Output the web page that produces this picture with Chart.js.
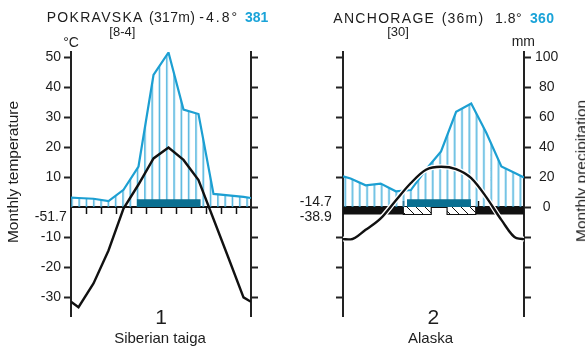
<!DOCTYPE html>
<html>
<head>
<meta charset="utf-8">
<script src="https://cdn.jsdelivr.net/npm/chart.js@4.4.0/dist/chart.umd.min.js"></script>
<style>
  body { margin: 0; background: #fff; }
  #wrap { position: relative; width: 585px; height: 347px; overflow: hidden;
          font-family: "Liberation Sans", Arial, sans-serif; color: #1d1d1d; }
  canvas { position: absolute; top: 0; }
  .t { position: absolute; white-space: nowrap; line-height: 1; }
</style>
</head>
<body>
<div id="wrap">
  <canvas id="c1" width="290" height="347" style="left:0"></canvas>
  <canvas id="c2" width="295" height="347" style="left:290px"></canvas>
</div>
<script>
// shared axes
const tempRange = [-36.33, 51.67];
const tempTicks = [-30, -20, -10, 0, 10, 20, 30, 40, 50];
const precipTicks = [-60, -40, -20, 0, 20, 40, 60, 80, 100];

// Pokravska (Siberian taiga), monthly means Jan..Dec
const pokTemp = [-33.4, -25.5, -14.5, -0.5, 7.5, 16.2, 19.8, 15.7, 9.0, -4.0, -17.0, -30.1];
const pokTempEdge = [-31.6, -31.6];
const pokPrecip = [6, 5.5, 4, 11.5, 27, 88, 103, 65, 62, 8.7, 7.7, 6.7];
const pokPrecipEdge = [6.2, 6];
const pokFrostFree = [[4.38, 8.65]];

// Anchorage (Alaska)
const ancTemp = [-10.8, -7.6, -3.8, 2.2, 8.0, 12.4, 13.4, 12.6, 9.6, 3.3, -4.3, -10.4];
const ancTempEdge = [-10.7, -10.7];
const ancPrecip = [19, 14.5, 15.6, 10.5, 11.3, 25, 37, 63.5, 69, 49.5, 27, 22.2];
const ancPrecipEdge = [20.5, 19.6];
const ancFrostFree = [[4.24, 8.48]];
const ancFrostMonths = [[0, 4], [8.8, 12]];
const ancProbFrost = [[4, 5.85], [6.9, 8.8]];

Chart.defaults.font.family = '"Liberation Sans", Arial, sans-serif';
Chart.defaults.color = '#1d1d1d';

function series(vals, edge) {
  return [{ x: 0, y: edge[0] }]
    .concat(vals.map((v, i) => ({ x: i + 0.5, y: v })))
    .concat([{ x: 12, y: edge[1] }]);
}
function band(span, h) {
  return [{ x: span[0], y: h }, { x: span[1], y: h }];
}
function box(span, h) {
  return [{ x: span[0], y: 0 }, { x: span[0], y: h }, { x: span[1], y: h }, { x: span[1], y: 0 }];
}

function vHatch(ctx, color, x0) {
  const c = document.createElement('canvas');
  c.width = 73; c.height = 8;
  const g = c.getContext('2d');
  g.fillStyle = color;
  for (let i = 0; i < 10; i++) g.fillRect(i * 7.3, 0, 1.4, 8);
  const p = ctx.createPattern(c, 'repeat');
  p.setTransform(new DOMMatrix().translate(x0, 0));
  return p;
}
function dHatch(ctx) {
  const c = document.createElement('canvas');
  c.width = 9; c.height = 9;
  const g = c.getContext('2d');
  g.fillStyle = '#fff';
  g.fillRect(0, 0, 9, 9);
  g.strokeStyle = '#111';
  g.lineWidth = 1;
  g.beginPath();
  g.moveTo(-1, -1); g.lineTo(10, 10);
  g.moveTo(-1, 8); g.lineTo(1, 10);
  g.moveTo(8, -1); g.lineTo(10, 1);
  g.stroke();
  return ctx.createPattern(c, 'repeat');
}

function makePanel(id, p) {
  const ctx = document.getElementById(id).getContext('2d');
  const curve = p.smooth ? { cubicInterpolationMode: 'monotone' } : { tension: 0 };
  const datasets = [];

  datasets.push(Object.assign({ data: series(p.temp, p.tempEdge), yAxisID: 'y', borderColor: '#111', borderWidth: 2.4, order: 0 }, curve));
  if (p.smooth) {
    datasets.push(Object.assign({ data: series(p.temp, p.tempEdge), yAxisID: 'y', borderColor: '#fff', borderWidth: 5, order: 1 }, curve));
  }
  p.frostFree.forEach(s => datasets.push({
    data: band(s, 2.6), yAxisID: 'y', borderWidth: 0, fill: 'origin', backgroundColor: '#0a6f91', order: 2
  }));
  (p.probFrost || []).forEach(s => datasets.push({
    data: box(s, -2.5), yAxisID: 'y', borderColor: '#111', borderWidth: 1.2, fill: 'origin',
    backgroundColor: dHatch(ctx), order: 3
  }));
  (p.frostMonths || []).forEach(s => datasets.push({
    data: band(s, -2.5), yAxisID: 'y', borderWidth: 0, fill: 'origin', backgroundColor: '#111', order: 4
  }));
  datasets.push({
    data: series(p.precip, p.precipEdge), yAxisID: 'y2', borderColor: '#1c9fd2', borderWidth: 2.2,
    tension: 0, fill: 'origin', backgroundColor: vHatch(ctx, '#3aabda', p.leftW + p.hatchShift), order: 5
  });

  return new Chart(ctx, {
    type: 'line',
    data: { datasets },
    options: {
      responsive: false,
      animation: false,
      devicePixelRatio: 1,
      layout: { padding: { top: 52, bottom: 31, left: 0, right: 0 } },
      elements: { point: { radius: 0 } },
      plugins: { legend: { display: false }, tooltip: { enabled: false }, filler: { drawTime: 'beforeDatasetDraw' } },
      scales: {
        x: {
          type: 'linear', min: 0, max: 12, position: { y: 0 }, z: 1,
          afterBuildTicks: s => { s.ticks = Array.from({ length: 13 }, (_, i) => ({ value: i })); },
          ticks: { display: false },
          grid: {
            drawOnChartArea: false, drawTicks: true, tickLength: p.monthTickLen, tickWidth: 1.5,
            tickColor: c => (c.tick && p.monthTicks.includes(c.tick.value)) ? '#111' : 'rgba(0,0,0,0)'
          },
          border: { display: true, color: '#111', width: 2 }
        },
        y: {
          type: 'linear', position: 'left', min: tempRange[0], max: tempRange[1], z: 1,
          afterBuildTicks: s => { s.ticks = tempTicks.map(v => ({ value: v })); },
          afterFit: s => { s.width = p.leftW; },
          ticks: {
            display: p.leftLabels, padding: 3, font: { size: 14 }, color: '#1d1d1d',
            callback: v => v === 0 ? '' : v
          },
          grid: {
            drawOnChartArea: false, drawTicks: true, tickLength: 7, tickWidth: 2,
            tickColor: c => (c.tick && c.tick.value === 0) ? 'rgba(0,0,0,0)' : '#222'
          },
          border: { display: true, color: '#222', width: 2 }
        },
        y2: {
          type: 'linear', position: 'right', min: tempRange[0] * 2, max: tempRange[1] * 2, z: 1,
          afterBuildTicks: s => { s.ticks = precipTicks.map(v => ({ value: v })); },
          afterFit: s => { s.width = p.rightW; },
          ticks: {
            display: p.rightLabels, padding: 4, crossAlign: 'center', font: { size: 14 }, color: '#1d1d1d',
            callback: v => v < 0 ? '' : v
          },
          grid: { drawOnChartArea: false, drawTicks: true, tickLength: 7, tickWidth: 2, tickColor: '#222' },
          border: { display: true, color: '#222', width: 2 }
        }
      }
    }
  });
}

makePanel('c1', {
  temp: pokTemp, tempEdge: pokTempEdge, precip: pokPrecip, precipEdge: pokPrecipEdge,
  frostFree: pokFrostFree, smooth: false,
  leftW: 71, rightW: 39, leftLabels: true, rightLabels: false, hatchShift: 0.2,
  monthTicks: [1, 2, 3, 4, 5, 6, 7, 8, 9, 10, 11], monthTickLen: 6
});
makePanel('c2', {
  temp: ancTemp, tempEdge: ancTempEdge, precip: ancPrecip, precipEdge: ancPrecipEdge,
  frostFree: ancFrostFree, frostMonths: ancFrostMonths, probFrost: ancProbFrost, smooth: true,
  leftW: 53, rightW: 61, leftLabels: false, rightLabels: true, hatchShift: 1.5,
  monthTicks: [4, 5, 6, 7, 8, 9], monthTickLen: -7
});

// text labels
const wrap = document.getElementById('wrap');
function label(text, x, y, o) {
  o = o || {};
  const d = document.createElement('div');
  d.className = 't';
  d.textContent = text;
  d.style.left = x + 'px';
  d.style.top = y + 'px';
  d.style.fontSize = (o.size || 14) + 'px';
  if (o.bold) d.style.fontWeight = 'bold';
  if (o.color) d.style.color = o.color;
  if (o.ls) d.style.letterSpacing = o.ls + 'px';
  const tx = o.align === 'center' ? '-50%' : o.align === 'right' ? '-100%' : '0';
  d.style.transform = 'translate(' + tx + ',-50%)' + (o.rotate ? ' rotate(-90deg)' : '');
  wrap.appendChild(d);
}
const blue = '#1aa3d8';

label('POKRAVSKA', 46.7, 16.7, { ls: 1.3 });
label('(317m)', 149, 16.7, { ls: 0.3 });
label('-4.8°', 199.3, 16.7, { ls: 2 });
label('381', 245, 16.7, { bold: true, color: blue });
label('[8-4]', 122.3, 31.4, { size: 13, align: 'center' });
label('°C', 71, 42, { align: 'center' });
label('Monthly temperature', 12.5, 172, { size: 15.5, align: 'center', rotate: true });
label('-51.7', 66.7, 215.7, { align: 'right' });
label('1', 161, 315.8, { size: 21, align: 'center' });
label('Siberian taiga', 160, 336.5, { size: 15, align: 'center' });

label('ANCHORAGE', 333.3, 18, { ls: 1.3 });
label('(36m)', 441.7, 18, { ls: 1.2 });
label('1.8°', 495, 18, { ls: 0.5 });
label('360', 530, 18, { bold: true, color: blue, ls: 0.3 });
label('[30]', 398, 31.4, { size: 13, align: 'center' });
label('mm', 523.3, 40.8, { align: 'center' });
label('Monthly precipitation', 581, 171, { size: 15.5, align: 'center', rotate: true });
label('-14.7', 331.7, 200.7, { align: 'right' });
label('-38.9', 331.7, 215.7, { align: 'right' });
label('2', 433.3, 315.8, { size: 21, align: 'center' });
label('Alaska', 430.5, 336.5, { size: 15, align: 'center' });
</script>
</body>
</html>
